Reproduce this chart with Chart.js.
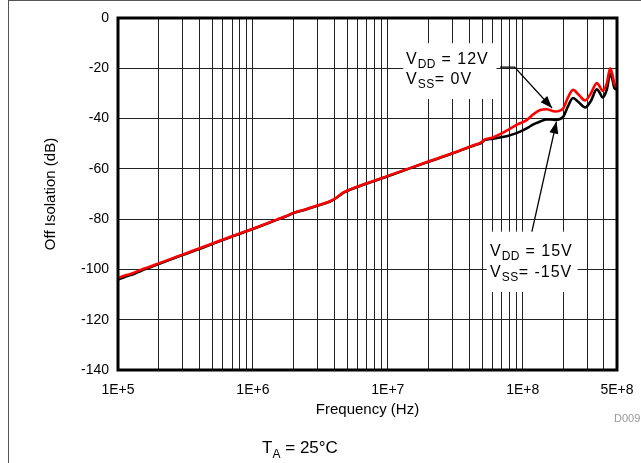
<!DOCTYPE html>
<html>
<head>
<meta charset="utf-8">
<script src="https://cdn.jsdelivr.net/npm/chart.js@4.4.1/dist/chart.umd.min.js"></script>
<style>
  body { margin:0; background:#fff; }
  #wrap { position:relative; width:641px; height:463px; overflow:hidden; background:#fff; }
  #frame { position:absolute; left:8px; top:0; width:700px; height:500px; border-left:1px solid #555; border-top:1px solid #555; }
  canvas { position:absolute; left:0; top:0; }
  .lbl { position:absolute; font-family:"Liberation Sans", Arial, sans-serif; color:#000; white-space:nowrap; }
  .ann { font-size:16px; line-height:16px; letter-spacing:1px; }
  .ann span { font-size:12px; position:relative; top:4px; letter-spacing:0.5px; }
</style>
</head>
<body>
<div id="wrap">
  <div id="frame"></div>
  <canvas id="chart" width="641" height="463"></canvas>
  <div class="lbl ann" style="left:406px; top:51px;">V<span>DD</span> = 12V</div>
  <div class="lbl ann" style="left:406px; top:71px;">V<span>SS</span>= 0V</div>
  <div class="lbl ann" style="left:490px; top:243px;">V<span>DD</span> = 15V</div>
  <div class="lbl ann" style="left:490px; top:264px;">V<span>SS</span>= -15V</div>
  <div class="lbl" style="left:200px; width:200px; top:439px; text-align:center; font-size:17px; line-height:17px;">T<span style="font-size:12px; position:relative; top:5px;">A</span> = 25°C</div>
  <div class="lbl" style="left:614px; top:412px; font-size:11px; color:#999;">D009</div>
</div>
<script>
// frecuencias (Hz) compartidas por ambas curvas
const freqs = [1e5, 1.1e5, 1.2e5, 1.3e5, 1.5e5, 1.7e5, 2e5, 2.5e5, 3e5, 4e5, 5e5, 7e5,
  1e6, 1.5e6, 1.8e6, 2e6, 2.5e6, 3e6, 3.7e6, 4.2e6, 4.7e6, 5.5e6, 7e6, 1e7, 2e7, 3e7,
  4.5e7, 4.9e7, 5.2e7, 6e7, 7.6e7, 9e7, 1.07e8, 1.2e8, 1.35e8, 1.5e8, 1.74e8, 2e8,
  2.15e8, 2.36e8, 2.6e8, 2.9e8, 3.2e8, 3.54e8, 3.75e8, 3.9e8, 4.2e8, 4.45e8, 4.6e8, 4.8e8, 5e8];

// VDD = 12V, VSS = 0V (rojo)
const offIso12 = [-103.5, -102.6, -102.0, -101.4, -100.0, -99.0, -97.6, -95.7, -94.1, -91.7, -89.7, -86.8,
  -83.8, -80.2, -78.6, -77.5, -76.0, -74.6, -73.0, -71.3, -69.4, -67.8, -65.7, -62.8, -57.1, -53.8,
  -50.3, -49.6, -48.4, -47.5, -44.8, -42.5, -40.6, -38.3, -36.6, -36.3, -37.2, -35.9,
  -32.0, -28.6, -30.5, -32.8, -30.0, -25.9, -27.5, -29.0, -26.0, -20.0, -22.0, -26.5, -27.4];

// VDD = 15V, VSS = -15V (negro)
const offIso15 = [-104.0, -103.2, -102.4, -101.9, -100.4, -99.3, -97.9, -95.9, -94.3, -91.9, -89.9, -86.9,
  -83.9, -80.3, -78.7, -77.6, -76.1, -74.7, -73.1, -71.4, -69.5, -67.9, -65.8, -62.9, -57.2, -53.9,
  -50.4, -49.8, -48.6, -48.0, -47.0, -45.8, -43.9, -42.3, -41.2, -40.3, -40.5, -39.2,
  -35.5, -31.8, -33.5, -35.6, -33.0, -28.4, -30.0, -31.6, -28.5, -22.2, -24.0, -28.0, -28.4];

// ejes
const yMin = -140, yMax = 0, yStep = 20;
const xLabelVals = [1e5, 1e6, 1e7, 1e8, 5e8];
const xTickLabels = ['1E+5', '1E+6', '1E+7', '1E+8', '5E+8'];
const xGridVals = [];
[1e5, 1e6, 1e7, 1e8].forEach(d => {
  for (let k = 1; k <= 9; k++) if (d * k <= 5e8) xGridVals.push(d * k);
});

// cajas blancas detras de las etiquetas y flechas (coordenadas de datos)
const labelBoxes = [
  { f0: 1.3e7, f1: 6.4e7, v0: -10, v1: -32.2 },
  { f0: 5.4e7, f1: 2.55e8, v0: -85, v1: -109 },
];
const arrows = [
  [[6.8e7, -19.5], [8.7e7, -19.5], [1.65e8, -35.8]],
  [[1.17e8, -85], [1.78e8, -41.2]],
];

Chart.defaults.font.family = '"Liberation Sans", Arial, sans-serif';
Chart.defaults.font.size = 14;
Chart.defaults.color = '#000';

const decor = {
  id: 'decor',
  beforeDatasetsDraw(chart) {
    const { ctx, scales: { x, y } } = chart;
    ctx.save();
    ctx.fillStyle = '#fff';
    labelBoxes.forEach(b => {
      const l = x.getPixelForValue(b.f0), r = x.getPixelForValue(b.f1);
      const t = y.getPixelForValue(b.v0), bt = y.getPixelForValue(b.v1);
      ctx.fillRect(l, t, r - l, bt - t);
    });
    ctx.restore();
  },
  afterDatasetsDraw(chart) {
    const { ctx, chartArea: a, scales: { x, y } } = chart;
    ctx.save();
    // flechas
    ctx.strokeStyle = '#000';
    ctx.fillStyle = '#000';
    ctx.lineWidth = 1.3;
    arrows.forEach(pts => {
      const p = pts.map(([f, v]) => [x.getPixelForValue(f), y.getPixelForValue(v)]);
      ctx.beginPath();
      p.forEach(([px, py], i) => i ? ctx.lineTo(px, py) : ctx.moveTo(px, py));
      ctx.stroke();
      const [x1, y1] = p[p.length - 2], [x2, y2] = p[p.length - 1];
      const ang = Math.atan2(y2 - y1, x2 - x1);
      const len = 12, w = 4.5;
      ctx.beginPath();
      ctx.moveTo(x2, y2);
      ctx.lineTo(x2 - len * Math.cos(ang) + w * Math.sin(ang), y2 - len * Math.sin(ang) - w * Math.cos(ang));
      ctx.lineTo(x2 - len * Math.cos(ang) - w * Math.sin(ang), y2 - len * Math.sin(ang) + w * Math.cos(ang));
      ctx.closePath();
      ctx.fill();
    });
    // marco del grafico
    ctx.lineWidth = 3;
    ctx.strokeRect(a.left, a.top, a.right - a.left, a.bottom - a.top);
    ctx.restore();
  }
};

const toPts = vals => freqs.map((f, i) => ({ x: f, y: vals[i] }));

new Chart(document.getElementById('chart'), {
  type: 'line',
  data: {
    datasets: [
      { label: 'VDD = 12V, VSS = 0V', data: toPts(offIso12), borderColor: '#ff0000', borderWidth: 2.6,
        pointRadius: 0, cubicInterpolationMode: 'monotone', fill: false },
      { label: 'VDD = 15V, VSS = -15V', data: toPts(offIso15), borderColor: '#000000', borderWidth: 2.6,
        pointRadius: 0, cubicInterpolationMode: 'monotone', fill: false },
    ]
  },
  options: {
    responsive: false,
    animation: false,
    devicePixelRatio: 1,
    layout: { padding: { top: 18, right: 24, left: 0, bottom: 0 } },
    plugins: { legend: { display: false }, tooltip: { enabled: false } },
    scales: {
      x: {
        type: 'logarithmic',
        min: 1e5, max: 5e8,
        afterBuildTicks: s => { s.ticks = xGridVals.map(v => ({ value: v })); },
        afterFit: s => { s.height = 93; s.paddingLeft = 0; s.paddingRight = 0; },
        ticks: {
          autoSkip: false, maxRotation: 0, minRotation: 0, padding: 12,
          callback: v => {
            const i = xLabelVals.indexOf(v);
            return i >= 0 ? xTickLabels[i] : '';
          }
        },
        grid: { color: '#222', lineWidth: 1, drawTicks: false },
        border: { display: false },
        title: { display: true, text: 'Frequency (Hz)', font: { size: 15 }, padding: { top: 0, bottom: 44 } }
      },
      y: {
        min: yMin, max: yMax,
        afterFit: s => { s.width = 118; s.paddingTop = 0; s.paddingBottom = 0; },
        ticks: { stepSize: yStep, padding: 9 },
        grid: { color: '#222', lineWidth: 1, drawTicks: false },
        border: { display: false },
        title: { display: true, text: 'Off Isolation (dB)', font: { size: 15 }, padding: { top: 42, bottom: 0 } }
      }
    }
  },
  plugins: [decor]
});
</script>
</body>
</html>
